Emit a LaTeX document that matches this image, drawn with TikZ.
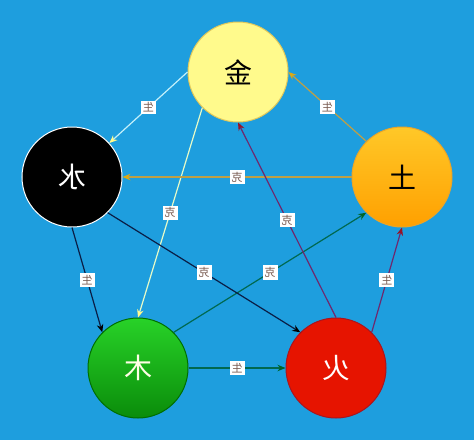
\documentclass[tikz,border=0pt]{standalone}
\usepackage{fontspec}
\usepackage{graphicx}
\newfontfamily\cjk{Noto Sans CJK SC}
\usetikzlibrary{arrows.meta}

\definecolor{bgblue}{RGB}{30,158,222}
\definecolor{jinfill}{RGB}{255,250,140}
\definecolor{jinedge}{RGB}{225,200,90}
\definecolor{tutop}{RGB}{255,200,40}
\definecolor{tubot}{RGB}{255,160,0}
\definecolor{tuedge}{RGB}{235,165,40}
\definecolor{mutop}{RGB}{40,210,40}
\definecolor{mubot}{RGB}{10,140,10}
\definecolor{muedge}{RGB}{0,110,0}
\definecolor{huofill}{RGB}{230,20,0}
\definecolor{huoedge}{RGB}{170,20,30}
\definecolor{jinline}{RGB}{195,240,250}
\definecolor{paleline}{RGB}{230,250,200}
\definecolor{tuline}{RGB}{190,160,70}
\definecolor{tutip}{RGB}{220,170,20}
\definecolor{huoline}{RGB}{110,40,110}
\definecolor{huotip}{RGB}{150,20,40}
\definecolor{shuiline}{RGB}{10,30,70}
\definecolor{muline}{RGB}{0,105,80}
\definecolor{mutip}{RGB}{0,100,40}
\definecolor{lbltext}{RGB}{120,90,80}

\newcommand\flip[1]{\reflectbox{#1}}

\begin{document}
\begin{tikzpicture}[x=1pt,y=-1pt,
		elem/.style={circle,minimum size=100pt,inner sep=0pt,line width=1pt,
			font=\cjk\fontsize{28}{28}\selectfont},
		link/.style 2 args={draw=#1,line width=1.2pt,
			-{Stealth[length=8pt,width=6.5pt,color=#2]}},
		lbl/.style={fill=white,inner sep=2pt,text=lbltext,
			font=\cjk\fontsize{11}{11}\selectfont}]

		\fill[bgblue] (0,0) rectangle (474,440);

		\node[elem,fill=jinfill,draw=jinedge] (jin) at (238,72) {\flip{金}};
		\node[elem,fill=black,draw=white,text=white] (shui) at (72,177) {\flip{水}};
		\node[elem,top color=tutop,bottom color=tubot,draw=tuedge] (tu) at (402,177) {\flip{土}};
		\node[elem,top color=mutop,bottom color=mubot,draw=muedge,text=white!90!yellow] (mu) at (138,368) {\flip{木}};
		\node[elem,fill=huofill,draw=huoedge,text=white] (huo) at (336,368) {\flip{火}};

		% sheng
		\draw[link={jinline}{jinfill}] (jin.west) -- (shui) node[lbl,midway] {\flip{生}};
		\draw[link={shuiline}{black}] (shui.south) -- (mu.135) node[lbl,midway] {\flip{生}};
		\draw[link={muline}{mutip}] (mu) -- (huo) node[lbl,midway] {\flip{生}};
		\draw[link={huoline}{huotip}] (huo.north east) -- (tu.south) node[lbl,midway] {\flip{生}};
		\draw[link={tuline}{tutip}] (tu.135) -- (jin.east) node[lbl,midway] {\flip{生}};

		% ke
		\draw[link={paleline}{jinfill}] (jin.225) -- (mu.north) node[lbl,midway] {\flip{克}};
		\draw[link={muline}{mutip}] (mu.north east) -- (tu.south west) node[lbl,midway] {\flip{克}};
		\draw[link={tuline}{tutip}] (tu) -- (shui) node[lbl,midway] {\flip{克}};
		\draw[link={shuiline}{black}] (shui.south east) -- (huo.north west) node[lbl,midway] {\flip{克}};
		\draw[link={huoline}{huotip}] (huo.north) -- (jin.south) node[lbl,midway] {\flip{克}};

	\end{tikzpicture}
\end{document}
